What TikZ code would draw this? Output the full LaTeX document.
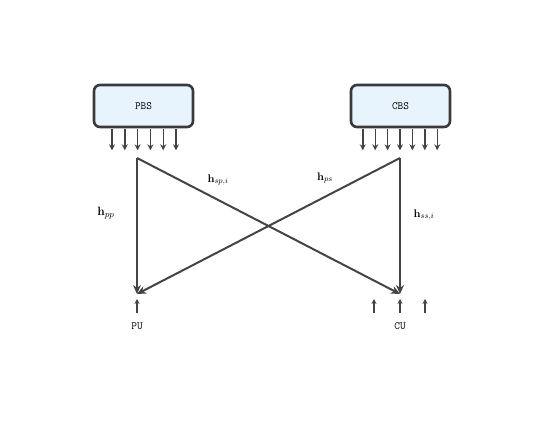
\documentclass[tikz,border=0pt]{standalone}
\usepackage{amsmath,amssymb}
\usepackage{tikz}
\usetikzlibrary{arrows.meta,positioning,calc}
\definecolor{boxfill}{HTML}{E8F4FD}
\definecolor{darkline}{HTML}{3A3A3A}
\definecolor{chan}{HTML}{444444}

\begin{document}
\begin{tikzpicture}[x=1pt,y=-1pt,
			bs/.style={draw=darkline,line width=2.6pt,fill=boxfill,rounded corners=6pt,minimum width=99pt,minimum height=42pt,inner sep=0pt,font=\fontsize{11}{13}\ttfamily},
			txarr/.style={-{Stealth[length=6pt,width=6pt]},draw=chan,line width=1.4pt},
			arr/.style={-{Stealth[length=9pt,width=8pt]},draw=chan,line width=2pt},
			uparr/.style={-{Stealth[length=5pt,width=5pt]},draw=chan,line width=1.4pt},
			usr/.style={font=\fontsize{11}{13}\ttfamily,inner sep=1pt},
			gain/.style={font=\fontsize{11}{13}\selectfont,inner sep=1pt}
			]
			\useasboundingbox (0,0) rectangle (551,426);
			\node[bs] (pbs) at (143.5,106) {PBS};
			\node[bs] (cbs) at (400.5,106) {CBS};
			% transmit antennas
			\foreach \i in {0,...,5}
				\draw[txarr] ($(pbs.south)+({(\i-2.5)*12.8+0.5},1)$) -- ++(0,21);
			\foreach \i in {0,...,6}
				\draw[txarr] ($(cbs.south)+({(\i-3)*12.4-0.5},1)$) -- ++(0,21);
			\coordinate (ptx) at (137,158);
			\coordinate (ctx) at (400,158);
			\coordinate (pu) at (137,294);
			\coordinate (cu) at (400,294);
			\draw[arr] (ptx) -- (pu);
			\draw[arr] (ptx) -- (cu);
			\draw[arr] (ctx) -- (cu);
			\draw[arr] (ctx) -- (pu);
			\node[gain,font=\fontsize{13}{15}\selectfont] (hpp) at (106,213) {$\mathbf{h}_{pp}$};
			\node[gain] (hspi) at (218,180) {$\mathbf{h}_{sp,i}$};
			\node[gain] (hps) at (325,178) {$\mathbf{h}_{ps}$};
			\node[gain] (hssi) at (424,215) {$\mathbf{h}_{ss,i}$};
			% receivers
			\node[usr] (pul) at (137,326) {PU};
			\node[usr] (cul) at (400,326) {CU};
			\foreach \x/\n in {137/a,374/b,400/c,425/d}{
				\coordinate (rx\n) at (\x,313);
				\coordinate (ry\n) at (\x,299);
				\draw[uparr] (rx\n) -- (ry\n);
			}
		\end{tikzpicture}
\end{document}
